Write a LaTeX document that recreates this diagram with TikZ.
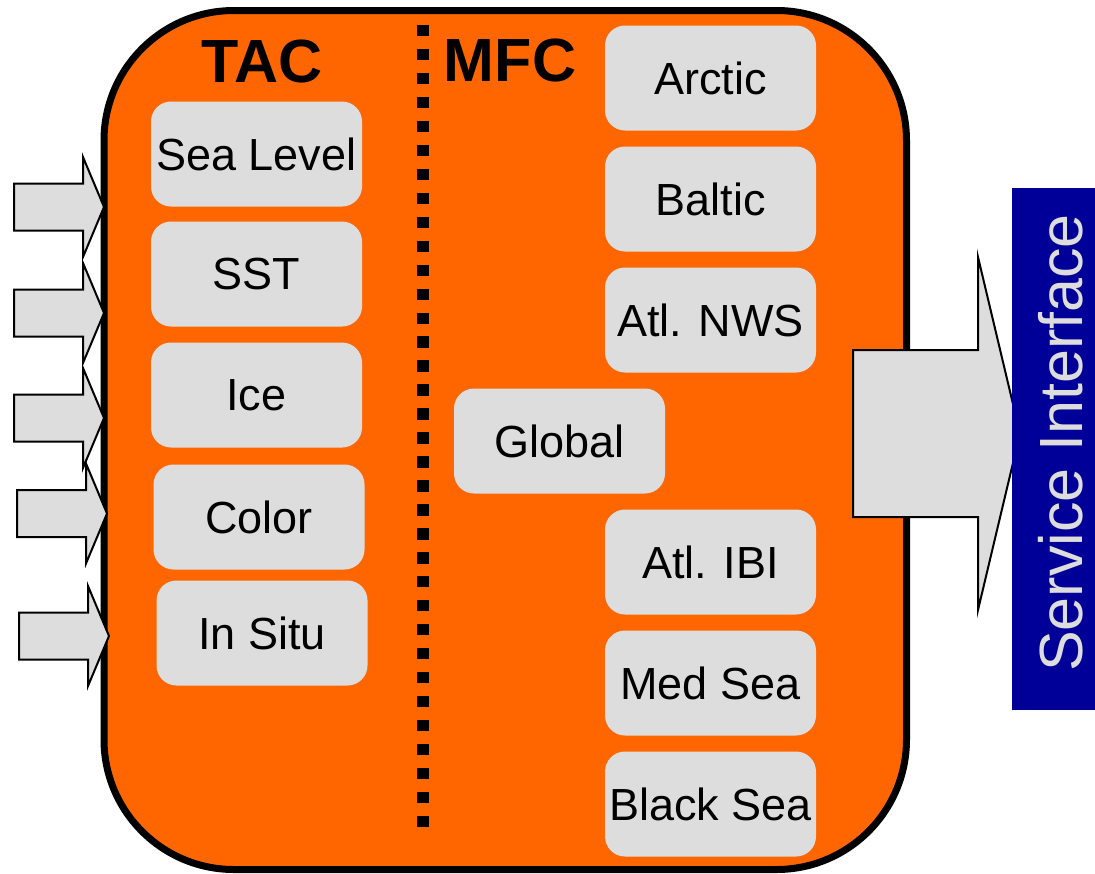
\documentclass[tikz,border=0pt]{standalone}
\usepackage{fontspec}
\setmainfont{Liberation Sans}
\usepackage{xcolor}
\usetikzlibrary{positioning}
\definecolor{mfcorange}{HTML}{FF6600}
\definecolor{boxgray}{HTML}{DDDDDD}
\definecolor{sidblue}{HTML}{000099}

\begin{document}
\begin{tikzpicture}[x=1pt,y=-1pt,
    regionbox/.style={fill=boxgray, rounded corners=20pt, minimum width=211pt, minimum height=105pt, inner sep=0pt, font=\fontsize{45}{54}\selectfont},
    headtext/.style={font=\fontsize{61}{70}\selectfont\bfseries},
    blockarrow/.style={fill=boxgray, draw=black, line width=2pt, line join=miter}]
        \useasboundingbox (0,0) rectangle (1095,873);
        \draw[fill=mfcorange, line width=7pt, rounded corners=130pt] (104,10.5) rectangle (906.5,869.5); %外枠
        \draw[line width=12pt, dash pattern=on 11.4pt off 12.56pt] (423,25) -- (423,827); %TAC/MFC境界
        \node[headtext] (tac) at (262,61) {TAC};
        \node[headtext] (mfc) at (510,60) {MFC};
        % TAC
        \node[regionbox] (sealevel) at (256.5,154) {Sea Level};
        \node[regionbox] (sst) at (256.5,274) {SST};
        \node[regionbox] (ice) at (256.5,395) {Ice};
        \node[regionbox] (color) at (259,517) {Color};
        \node[regionbox] (insitu) at (262,633) {In Situ};
        % MFC
        \node[regionbox] (arctic) at (710.5,78) {Arctic};
        \node[regionbox] (baltic) at (710.5,199) {Baltic};
        \node[regionbox] (atlnws) at (710.5,320) {Atl. NWS};
        \node[regionbox] (global) at (559.5,441) {Global};
        \node[regionbox] (atlibi) at (710.5,562) {Atl. IBI};
        \node[regionbox] (medsea) at (710.5,683) {Med Sea};
        \node[regionbox] (blacksea) at (710.5,804) {Black Sea};
        % 入力矢印
        \foreach \x/\y in {14/207, 14/313, 14/418, 17/513.5, 19/636}
            \draw[blockarrow] (\x,\y-23.5) -- (\x+69,\y-23.5) -- (\x+69,\y-50) -- (\x+90,\y) -- (\x+69,\y+50) -- (\x+69,\y+23.5) -- (\x,\y+23.5) -- cycle;
        % 出力矢印
        \draw[blockarrow] (853,350) -- (978,350) -- (978,257) -- (1020,433.5) -- (978,610) -- (978,517) -- (853,517) -- cycle;
        \fill[sidblue] (1012,188) rectangle (1095,710); %Service Interface
        \node[rotate=90, text=boxgray, inner sep=0pt, font=\fontsize{61}{70}\selectfont] (service) at (1061,443) {Service Interface};
    \end{tikzpicture}
\end{document}
